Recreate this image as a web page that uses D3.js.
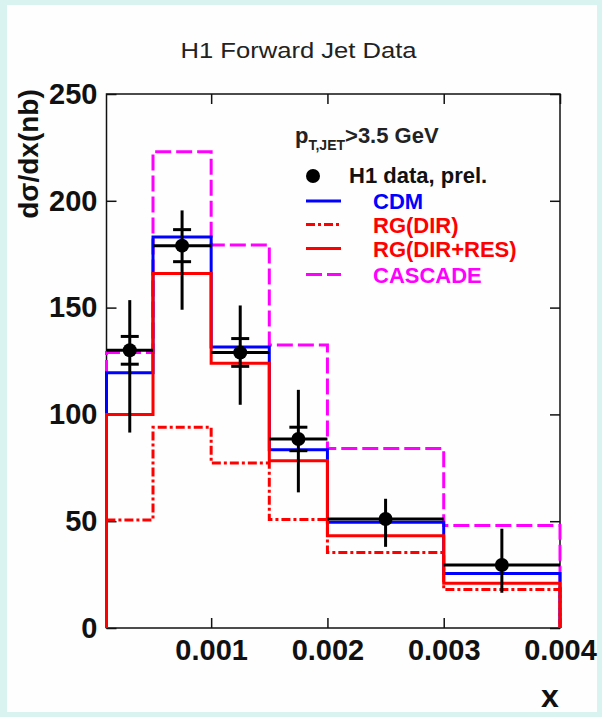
<!DOCTYPE html>
<html>
<head>
<style>
  body { margin: 0; background: #d9f3f0; }
  svg text { font-family: "Liberation Sans", Arial, sans-serif; }
  .axis text { font-size: 29px; font-weight: bold; fill: #111; }
  .axis line { stroke: #111; stroke-width: 1.5; }
  .axis path { display: none; }
</style>
<script src="https://d3js.org/d3.v7.min.js"></script>
</head>
<body>
<svg width="602" height="717"></svg>
<script>
// bin edges in x and bin centres for the data points
var binEdges = [0.0001, 0.0005, 0.001, 0.0015, 0.002, 0.003, 0.004];
var binCentres = [0.0003, 0.00075, 0.00125, 0.00175, 0.0025, 0.0035];

// H1 data, prel.
var dataVals = [130, 179, 129, 88.5, 51, 29.5];
var statErr = [6.5, 7.5, 6.5, 5.5, 0, 0];
var totUp = [23.5, 16.5, 22, 23, 9.5, 17];
var totDown = [38.5, 30, 24.5, 25, 13, 13];

// models
var cdm = [119.5, 183, 131.5, 83.5, 49.5, 25.5];
var rgDir = [50.6, 94, 77.2, 50.8, 35.3, 18];
var rgDirRes = [100, 166, 124, 78.3, 43.2, 21];
var cascade = [129, 223, 179.3, 132.5, 84, 48];

var xTicks = [0.001, 0.002, 0.003, 0.004];
var xTickLabels = ["0.001", "0.002", "0.003", "0.004"];
var yTicks = [0, 50, 100, 150, 200, 250];

var svg = d3.select("svg");
svg.append("rect").attr("width", 602).attr("height", 717).attr("fill", "#d9f3f0");
svg.append("rect").attr("x", 7).attr("y", 5).attr("width", 590).attr("height", 707).attr("fill", "#fefefe");

var x = d3.scaleLinear().domain([0.0001, 0.004]).range([106.5, 560]);
var y = d3.scaleLinear().domain([0, 250]).range([628, 94]);

// axes, ticks pointing inwards
svg.append("g").attr("class", "axis").attr("transform", "translate(0,628)")
  .call(d3.axisBottom(x).tickValues(xTicks).tickSize(-10).tickPadding(11)
    .tickFormat(function (d, i) { return xTickLabels[i]; }));
svg.append("g").attr("class", "axis").attr("transform", "translate(0,94)")
  .call(d3.axisTop(x).tickValues(xTicks).tickSize(-10).tickFormat(""));
svg.append("g").attr("class", "axis").attr("transform", "translate(106.5,0)")
  .call(d3.axisLeft(y).tickValues(yTicks).tickSize(-10).tickPadding(9));
svg.append("g").attr("class", "axis").attr("transform", "translate(560,0)")
  .call(d3.axisRight(y).tickValues(yTicks).tickSize(-10).tickFormat(""));

svg.append("rect")
  .attr("x", x(0.0001)).attr("y", y(250))
  .attr("width", x(0.004) - x(0.0001)).attr("height", y(0) - y(250))
  .attr("fill", "none").attr("stroke", "#111").attr("stroke-width", 1.5);

// histogram outline from 0 up, across the bins and back to 0
function histPoints(vals) {
  var pts = [[binEdges[0], 0]];
  vals.forEach(function (v, i) {
    pts.push([binEdges[i], v]);
    pts.push([binEdges[i + 1], v]);
  });
  pts.push([binEdges[binEdges.length - 1], 0]);
  return pts;
}
var line = d3.line().x(function (d) { return x(d[0]); }).y(function (d) { return y(d[1]); });

var models = [
  { vals: cascade, color: "#ff00ff", dash: "16,5" },
  { vals: cdm, color: "#0000ff", dash: null },
  { vals: rgDir, color: "#ff0000", dash: "9,3,3,3" },
  { vals: rgDirRes, color: "#ff0000", dash: null }
];
models.forEach(function (m) {
  svg.append("path")
    .attr("d", line(histPoints(m.vals)))
    .attr("fill", "none")
    .attr("stroke", m.color)
    .attr("stroke-width", 3)
    .attr("stroke-dasharray", m.dash);
});

// data points
var pts = svg.append("g").selectAll("g").data(dataVals).enter().append("g");
pts.append("line")
  .attr("x1", function (d, i) { return x(binEdges[i]); })
  .attr("x2", function (d, i) { return x(binEdges[i + 1]); })
  .attr("y1", function (d) { return y(d); })
  .attr("y2", function (d) { return y(d); })
  .attr("stroke", "#000").attr("stroke-width", 3);
pts.append("line")
  .attr("x1", function (d, i) { return x(binCentres[i]); })
  .attr("x2", function (d, i) { return x(binCentres[i]); })
  .attr("y1", function (d, i) { return y(d + totUp[i]); })
  .attr("y2", function (d, i) { return y(d - totDown[i]); })
  .attr("stroke", "#000").attr("stroke-width", 3);
pts.each(function (d, i) {
  if (!statErr[i]) return;
  var g = d3.select(this);
  [d + statErr[i], d - statErr[i]].forEach(function (v) {
    g.append("line")
      .attr("x1", x(binCentres[i]) - 9).attr("x2", x(binCentres[i]) + 9)
      .attr("y1", y(v)).attr("y2", y(v))
      .attr("stroke", "#000").attr("stroke-width", 3);
  });
});
pts.append("circle")
  .attr("cx", function (d, i) { return x(binCentres[i]); })
  .attr("cy", function (d) { return y(d); })
  .attr("r", 7).attr("fill", "#000");

// titles
svg.append("text").attr("x", 298.5).attr("y", 58).attr("text-anchor", "middle")
  .attr("font-size", 22).attr("fill", "#222")
  .attr("textLength", 236).attr("lengthAdjust", "spacingAndGlyphs")
  .text("H1 Forward Jet Data");
svg.append("text").attr("transform", "translate(38,154) rotate(-90)")
  .attr("text-anchor", "middle").attr("font-size", 28).attr("font-weight", "bold")
  .attr("fill", "#111").text("dσ/dx(nb)");
svg.append("text").attr("x", 541).attr("y", 707)
  .attr("font-size", 32).attr("font-weight", "bold").attr("fill", "#111").text("x");

// legend
var pt = svg.append("text").attr("x", 295).attr("y", 143).attr("font-weight", "bold").attr("fill", "#222");
pt.append("tspan").attr("font-size", 22).text("p");
pt.append("tspan").attr("font-size", 14).attr("dy", 7).text("T,JET");
pt.append("tspan").attr("font-size", 22).attr("dy", -7).text(">3.5 GeV");

svg.append("circle").attr("cx", 313).attr("cy", 176).attr("r", 7).attr("fill", "#000");
svg.append("text").attr("x", 349).attr("y", 183).attr("font-size", 22)
  .attr("font-weight", "bold").attr("fill", "#111").text("H1 data, prel.");

var legendNames = ["CDM", "RG(DIR)", "RG(DIR+RES)", "CASCADE"];
var legendStyle = [models[1], models[2], models[3], models[0]];
var legendY = [201, 224.5, 248.5, 274.5];
legendNames.forEach(function (name, i) {
  var s = legendStyle[i];
  svg.append("line").attr("x1", 306).attr("x2", 341)
    .attr("y1", legendY[i]).attr("y2", legendY[i])
    .attr("stroke", s.color).attr("stroke-width", 3).attr("stroke-dasharray", s.dash);
  svg.append("text").attr("x", 373).attr("y", legendY[i] + 8.3)
    .attr("font-size", 22).attr("font-weight", "bold").attr("fill", s.color).text(name);
});
</script>
</body>
</html>
